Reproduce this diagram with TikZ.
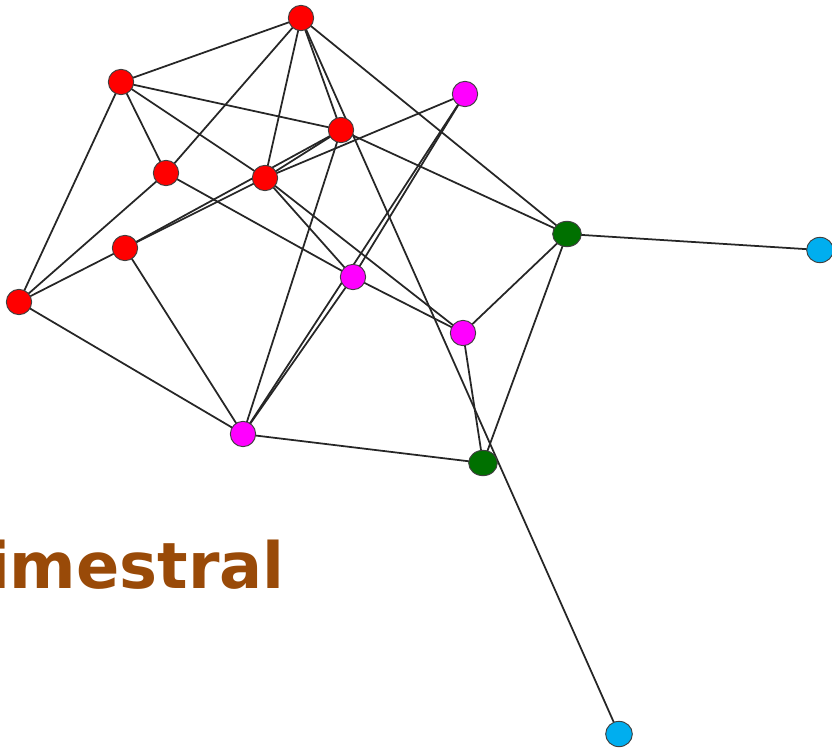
\documentclass[tikz,border=0pt]{standalone}
\usepackage{fontspec}
\usepackage{tikz}
\usetikzlibrary{backgrounds,shapes.geometric}
\newfontfamily\labelfont{DejaVu Sans}
\definecolor{vred}{RGB}{255,0,0}
\definecolor{vmagenta}{RGB}{255,0,255}
\definecolor{vgreen}{RGB}{0,112,0}
\definecolor{vcyan}{RGB}{0,174,239}
\definecolor{vbrown}{RGB}{153,74,8}

\begin{document}
\begin{tikzpicture}[x=0.03cm,y=-0.03cm,
    vertex/.style={circle,draw=black!75,line width=0.8pt,
        minimum size=0.76cm,inner sep=0pt},
    red vertex/.style={vertex,fill=vred},
    pink vertex/.style={vertex,fill=vmagenta},
    green vertex/.style={vertex,ellipse,fill=vgreen,
        minimum width=0.86cm,minimum height=0.76cm},
    cyan vertex/.style={vertex,ellipse,fill=vcyan,
        minimum width=0.8cm,minimum height=0.76cm},
    link/.style={draw=black!85,line width=1.5pt}]
    \useasboundingbox (0,0) rectangle (832,752);

    % red group
    \node[red vertex] (r1) at (301,18)  {};
    \node[red vertex] (r2) at (121,82)  {};
    \node[red vertex] (r3) at (341,130) {};
    \node[red vertex] (r4) at (166,173) {};
    \node[red vertex] (r5) at (265,178) {};
    \node[red vertex] (r6) at (125,248) {};
    \node[red vertex] (r7) at (19,302)  {};
    % magenta group
    \node[pink vertex] (p1) at (465,94)  {};
    \node[pink vertex] (p2) at (353,277) {};
    \node[pink vertex] (p3) at (463,333) {};
    \node[pink vertex] (p4) at (243,434) {};
    % green and cyan
    \node[green vertex] (g1) at (567,234) {};
    \node[green vertex] (g2) at (483,463) {};
    \node[cyan vertex]  (c1) at (820,250) {};
    \node[cyan vertex]  (c2) at (619,734) {};

    \node[anchor=base east,inner sep=0pt,text=vbrown,
        font=\labelfont\bfseries\fontsize{54.5}{54.5}\selectfont] (title) at (285,588) {imestral};

    \begin{pgfonlayer}{background}
        \foreach \a/\b in {r1/r2,r1/r4,r1/r5,r1/r3,r1/c2,r1/g1,
                r2/r3,r2/r4,r2/r5,r2/r7,
                r3/r5,r3/r6,r3/g1,r3/p4,
                r4/r7,r4/p2,
                r5/p2,r5/p3,r5/p1,
                r6/r5,r6/r7,r6/p4,
                r7/p4,
                p1/p2,p1/p4,
                p2/p4,p2/p3,
                p3/g1,p3/g2,
                p4/g2,
                g1/g2,g1/c1}
            \draw[link] (\a.center) -- (\b.center);
    \end{pgfonlayer}
\end{tikzpicture}
\end{document}
